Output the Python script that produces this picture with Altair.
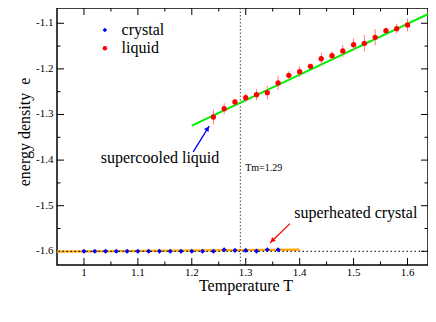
import altair as alt
import pandas as pd

# ---------------- data ----------------
crystal_T = [1.00, 1.02, 1.04, 1.06, 1.08, 1.10, 1.12, 1.14, 1.16, 1.18,
             1.20, 1.22, 1.24, 1.26, 1.28, 1.30, 1.32, 1.34, 1.36]
crystal_e = [-1.600, -1.600, -1.600, -1.600, -1.600, -1.600, -1.600, -1.600, -1.600, -1.600,
             -1.600, -1.600, -1.600, -1.5965, -1.598, -1.598, -1.5995, -1.5965, -1.5965]

liquid_T = [1.24, 1.26, 1.28, 1.30, 1.32, 1.34, 1.36, 1.38, 1.40, 1.42,
            1.44, 1.46, 1.48, 1.50, 1.52, 1.54, 1.56, 1.58, 1.60]
liquid_e = [-1.3055, -1.2873, -1.2726, -1.2632, -1.2566, -1.2522, -1.2309, -1.2140, -1.2061, -1.1943,
            -1.1776, -1.1711, -1.1607, -1.1469, -1.1439, -1.1307, -1.1162, -1.1118, -1.1037]
liquid_err = [0.016, 0.012, 0.007, 0.009, 0.012, 0.015, 0.015, 0.009, 0.012, 0.006,
              0.013, 0.010, 0.013, 0.014, 0.018, 0.018, 0.006, 0.011, 0.014]

fit_liquid_T = [1.20, 1.65]
fit_liquid_e = [-1.3245, -1.073]
fit_crystal_T = [0.95, 1.40]
fit_crystal_e = [-1.6005, -1.5965]

Tm = [1.29]
e_ground = [-1.6]

x_major = [1.0, 1.1, 1.2, 1.3, 1.4, 1.5, 1.6]
x_minor = [1.05, 1.15, 1.25, 1.35, 1.45, 1.55]
y_major = [-1.6, -1.5, -1.4, -1.3, -1.2, -1.1]
y_minor = [-1.55, -1.45, -1.35, -1.25, -1.15]
x_tick_labels = ["1", "1.1", "1.2", "1.3", "1.4", "1.5", "1.6"]
y_tick_labels = ["-1.6", "-1.5", "-1.4", "-1.3", "-1.2", "-1.1"]
x_title = "Temperature T"
y_title = "energy density\u00a0 e"

# annotations (in data coordinates)
ann_text = ["supercooled liquid", "superheated crystal"]
ann_T = [1.031, 1.390]
ann_e = [-1.4064, -1.5263]
arrow_T = [1.2026, 1.2322, 1.382, 1.3451]
arrow_e = [-1.3818, -1.3254, -1.5393, -1.5818]
arrow_id = ["a", "a", "b", "b"]
head_T = [1.2292, 1.3492]
head_e = [-1.3307, -1.5765]
head_angle = [32, 226]
head_color = ["#0000ff", "#ff0000"]

legend_T = [1.0388, 1.0388]
legend_e = [-1.1147, -1.1548]
legend_text_T = [1.0697, 1.0697]
legend_labels = ["crystal", "liquid"]

tm_label_T = [1.2989]
tm_label_e = [-1.4228]

# ---------------- chart ----------------
W, H = 371, 257
MAJ, MIN = 7, 3.5
FONT = "Liberation Serif"
xs = alt.Scale(domain=[0.95, 1.638], nice=False, zero=False)
ys = alt.Scale(domain=[-1.63, -1.0665], nice=False, zero=False)

X = lambda f="T": alt.X(f"{f}:Q", scale=xs, axis=None)
Y = lambda f="e": alt.Y(f"{f}:Q", scale=ys, axis=None)


# inward tick marks on all four sides, positioned by the scales
def xticks(vals, length):
    d = pd.DataFrame({"T": vals})
    bottom = alt.Chart(d).mark_rule(color="black", strokeWidth=1).encode(
        x=X(), y=alt.value(H), y2=alt.value(H - length))
    top = alt.Chart(d).mark_rule(color="black", strokeWidth=1).encode(
        x=X(), y=alt.value(0), y2=alt.value(length))
    return [bottom, top]


def yticks(vals, length):
    d = pd.DataFrame({"e": vals})
    left = alt.Chart(d).mark_rule(color="black", strokeWidth=1).encode(
        y=Y(), x=alt.value(0), x2=alt.value(length))
    right = alt.Chart(d).mark_rule(color="black", strokeWidth=1).encode(
        y=Y(), x=alt.value(W), x2=alt.value(W - length))
    return [left, right]


ticks = xticks(x_major, MAJ) + xticks(x_minor, MIN) + yticks(y_major, MAJ) + yticks(y_minor, MIN)

# tick labels and axis titles as text, placed through the scales
x_lab = alt.Chart(pd.DataFrame({"T": x_major, "t": x_tick_labels})).mark_text(
    font=FONT, fontSize=11, align="center", baseline="top", color="black").encode(
    x=X(), y=alt.value(H + 2), text="t:N")
y_lab = alt.Chart(pd.DataFrame({"e": y_major, "t": y_tick_labels})).mark_text(
    font=FONT, fontSize=11, align="right", baseline="middle", color="black").encode(
    y=Y(), x=alt.value(-3.5), text="t:N")
x_tit = alt.Chart(pd.DataFrame({"t": [x_title]})).mark_text(
    font=FONT, fontSize=16, align="center", baseline="alphabetic", color="black").encode(
    x=alt.value(189), y=alt.value(H + 26), text="t:N")
y_tit = alt.Chart(pd.DataFrame({"t": [y_title]})).mark_text(
    font=FONT, fontSize=16, align="center", baseline="alphabetic", angle=270,
    color="black").encode(x=alt.value(-27.5), y=alt.value(124), text="t:N")

df_cry = pd.DataFrame({"T": crystal_T, "e": crystal_e})
df_liq = pd.DataFrame({"T": liquid_T, "e": liquid_e, "err": liquid_err})
df_liq["lo"] = df_liq["e"] - df_liq["err"]
df_liq["hi"] = df_liq["e"] + df_liq["err"]

orange = alt.Chart(pd.DataFrame({"T": fit_crystal_T, "e": fit_crystal_e})).mark_line(
    color="#ffa500", strokeWidth=2.2, clip=True).encode(x=X(), y=Y())
ground_rule = alt.Chart(pd.DataFrame({"e": e_ground})).mark_rule(
    color="black", strokeDash=[1.5, 2.5], strokeWidth=1).encode(y=Y())
tm_rule = alt.Chart(pd.DataFrame({"T": Tm})).mark_rule(
    color="#444444", strokeDash=[1.5, 2], strokeWidth=1).encode(x=X())
green = alt.Chart(pd.DataFrame({"T": fit_liquid_T, "e": fit_liquid_e})).mark_line(
    color="#00ee00", strokeWidth=2, clip=True).encode(x=X(), y=Y())
errbars = alt.Chart(df_liq).mark_rule(color="#ff7a7a", strokeWidth=1).encode(
    x=X(), y=Y("lo"), y2="hi:Q")
liq_pts = alt.Chart(df_liq).mark_point(shape="circle", filled=True, color="#ff0000",
                                       size=28, opacity=1).encode(x=X(), y=Y())
cry_pts = alt.Chart(df_cry).mark_point(shape="diamond", filled=True, color="#0000ff",
                                       size=26, opacity=1).encode(x=X(), y=Y())

df_arrow = pd.DataFrame({"T": arrow_T, "e": arrow_e, "id": arrow_id})
arrows = alt.Chart(df_arrow).mark_line(strokeWidth=1.3).encode(
    x=X(), y=Y(), detail="id:N",
    color=alt.Color("id:N", scale=alt.Scale(domain=["a", "b"], range=["#0000ff", "#ff0000"]),
                    legend=None))
df_head = pd.DataFrame({"T": head_T, "e": head_e, "ang": head_angle, "c": head_color})
heads = alt.Chart(df_head).mark_point(shape="triangle-up", filled=True, size=30, opacity=1).encode(
    x=X(), y=Y(), angle=alt.Angle("ang:Q", scale=None), color=alt.Color("c:N", scale=None))

ann = alt.Chart(pd.DataFrame({"T": ann_T, "e": ann_e, "t": ann_text})).mark_text(
    font=FONT, fontSize=16, align="left", baseline="alphabetic", color="black").encode(
    x=X(), y=Y(), text="t:N")
tm_txt = alt.Chart(pd.DataFrame({"T": tm_label_T, "e": tm_label_e, "t": ["Tm=1.29"]})).mark_text(
    font=FONT, fontSize=10, align="left", baseline="alphabetic", color="black").encode(
    x=X(), y=Y(), text="t:N")

df_leg = pd.DataFrame({"T": legend_T, "e": legend_e, "tt": legend_text_T, "t": legend_labels})
leg_cry = alt.Chart(df_leg.iloc[[0]]).mark_point(shape="diamond", filled=True, color="#0000ff",
                                                 size=20, opacity=1).encode(x=X(), y=Y())
leg_liq = alt.Chart(df_leg.iloc[[1]]).mark_point(shape="circle", filled=True, color="#ff0000",
                                                 size=20, opacity=1).encode(x=X(), y=Y())
leg_txt = alt.Chart(df_leg).mark_text(font=FONT, fontSize=16, align="left", baseline="middle",
                                      color="black").encode(x=X("tt"), y=Y(), text="t:N")

chart = alt.layer(
    *ticks, x_lab, y_lab, x_tit, y_tit, orange, ground_rule, tm_rule, green, errbars,
    liq_pts, cry_pts, arrows, heads, ann, tm_txt, leg_cry, leg_liq, leg_txt
).properties(
    width=W, height=H,
    padding={"left": 49, "top": 0, "right": 0, "bottom": 49},
    autosize="none",
).configure_view(stroke="black", strokeWidth=1.5)

chart.save("out.html", embed_options={"renderer": "svg", "actions": False})
